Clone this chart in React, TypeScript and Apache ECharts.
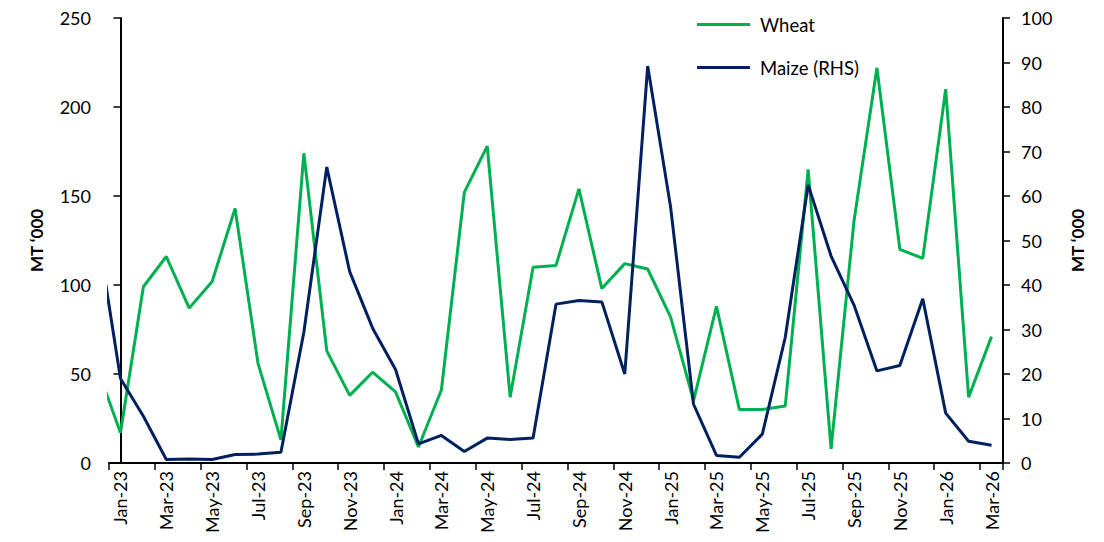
import React, { useEffect, useRef } from "react";
import * as echarts from "echarts";

// Dec-22 is the month before the visible range; its line segment is clipped at the left axis
const months = [
  "Dec-22",
  "Jan-23", "Feb-23", "Mar-23", "Apr-23", "May-23", "Jun-23", "Jul-23", "Aug-23", "Sep-23", "Oct-23", "Nov-23", "Dec-23",
  "Jan-24", "Feb-24", "Mar-24", "Apr-24", "May-24", "Jun-24", "Jul-24", "Aug-24", "Sep-24", "Oct-24", "Nov-24", "Dec-24",
  "Jan-25", "Feb-25", "Mar-25", "Apr-25", "May-25", "Jun-25", "Jul-25", "Aug-25", "Sep-25", "Oct-25", "Nov-25", "Dec-25",
  "Jan-26", "Feb-26", "Mar-26",
];

const wheat = [
  53,
  17, 99, 116, 87, 102, 143, 56, 13, 174, 63, 38, 51,
  40, 9, 41, 152, 178, 37, 110, 111, 154, 98, 112, 109,
  82, 35, 88, 30, 30, 32, 165, 8, 136, 222, 120, 115,
  210, 37, 71,
];

const maize = [
  52,
  19, 10.5, 0.8, 0.9, 0.8, 1.9, 2.0, 2.4, 29.4, 66.5, 43, 30.3,
  21, 4.3, 6.2, 2.6, 5.6, 5.3, 5.6, 35.7, 36.5, 36.2, 20, 89.2,
  57.5, 13.2, 1.7, 1.3, 6.5, 28.2, 62.5, 46.5, 35.5, 20.7, 21.9, 36.9,
  11.2, 4.9, 4.0,
];

const leftTicks = { min: 0, max: 250, interval: 50 };
const rightTicks = { min: 0, max: 100, interval: 10 };

const FONT = "Lato";

export default function App() {
  const ref = useRef<HTMLDivElement>(null);

  useEffect(() => {
    if (!ref.current) return;
    const chart = echarts.init(ref.current, undefined, { renderer: "svg" });
    const visible = months.slice(1);
    const toPoints = (arr: number[]) => arr.map((v, i) => [i - 1, v]);

    const axisLine = { show: true, lineStyle: { color: "#000", width: 2 } };
    const axisTick = { show: true, length: 7, lineStyle: { color: "#000", width: 1.5 } };

    chart.setOption({
      animation: false,
      textStyle: { fontFamily: FONT },
      grid: { left: 109, right: 101, top: 18, bottom: 79, containLabel: false },
      legend: {
        orient: "vertical",
        left: 692,
        top: 10,
        icon: "rect",
        itemWidth: 53,
        itemHeight: 3,
        itemGap: 24,
        textStyle: { fontFamily: FONT, fontSize: 18.5, color: "#000", padding: [0, 0, 0, 5], lineHeight: 18 },
        data: ["Wheat", "Maize (RHS)"],
      },
      xAxis: [
        {
          type: "category",
          data: visible,
          boundaryGap: true,
          axisLine,
          axisTick: { ...axisTick, interval: 1 },
          axisLabel: {
            interval: 1,
            rotate: 90,
            margin: 8,
            fontFamily: FONT,
            fontSize: 18,
            color: "#000",
          },
          splitLine: { show: false },
        },
        {
          type: "value",
          min: -0.5,
          max: visible.length - 0.5,
          show: false,
        },
      ],
      yAxis: [
        {
          type: "value",
          ...leftTicks,
          position: "left",
          name: "MT ‘000",
          nameLocation: "middle",
          nameGap: 64,
          nameTextStyle: { fontFamily: FONT, fontSize: 17, fontWeight: "bold", color: "#000" },
          axisLine,
          axisTick,
          axisLabel: { margin: 18, fontFamily: FONT, fontSize: 18, color: "#000" },
          splitLine: { show: false },
        },
        {
          type: "value",
          ...rightTicks,
          position: "right",
          name: "MT ‘000",
          nameLocation: "middle",
          nameGap: 66,
          nameTextStyle: { fontFamily: FONT, fontSize: 17, fontWeight: "bold", color: "#000" },
          axisLine,
          axisTick,
          axisLabel: { margin: 18, fontFamily: FONT, fontSize: 18, color: "#000" },
          splitLine: { show: false },
        },
      ],
      series: [
        {
          name: "Wheat",
          type: "line",
          xAxisIndex: 1,
          yAxisIndex: 0,
          data: toPoints(wheat),
          symbol: "none",
          clip: true,
          lineStyle: { color: "#00B050", width: 3 },
          itemStyle: { color: "#00B050" },
        },
        {
          name: "Maize (RHS)",
          type: "line",
          xAxisIndex: 1,
          yAxisIndex: 1,
          data: toPoints(maize),
          symbol: "none",
          clip: true,
          lineStyle: { color: "#002060", width: 3 },
          itemStyle: { color: "#002060" },
        },
      ],
    });

    return () => chart.dispose();
  }, []);

  return (
    <div
      ref={ref}
      style={{ position: "fixed", left: 0, top: 0, width: 1104, height: 542, background: "#fff" }}
    />
  );
}
